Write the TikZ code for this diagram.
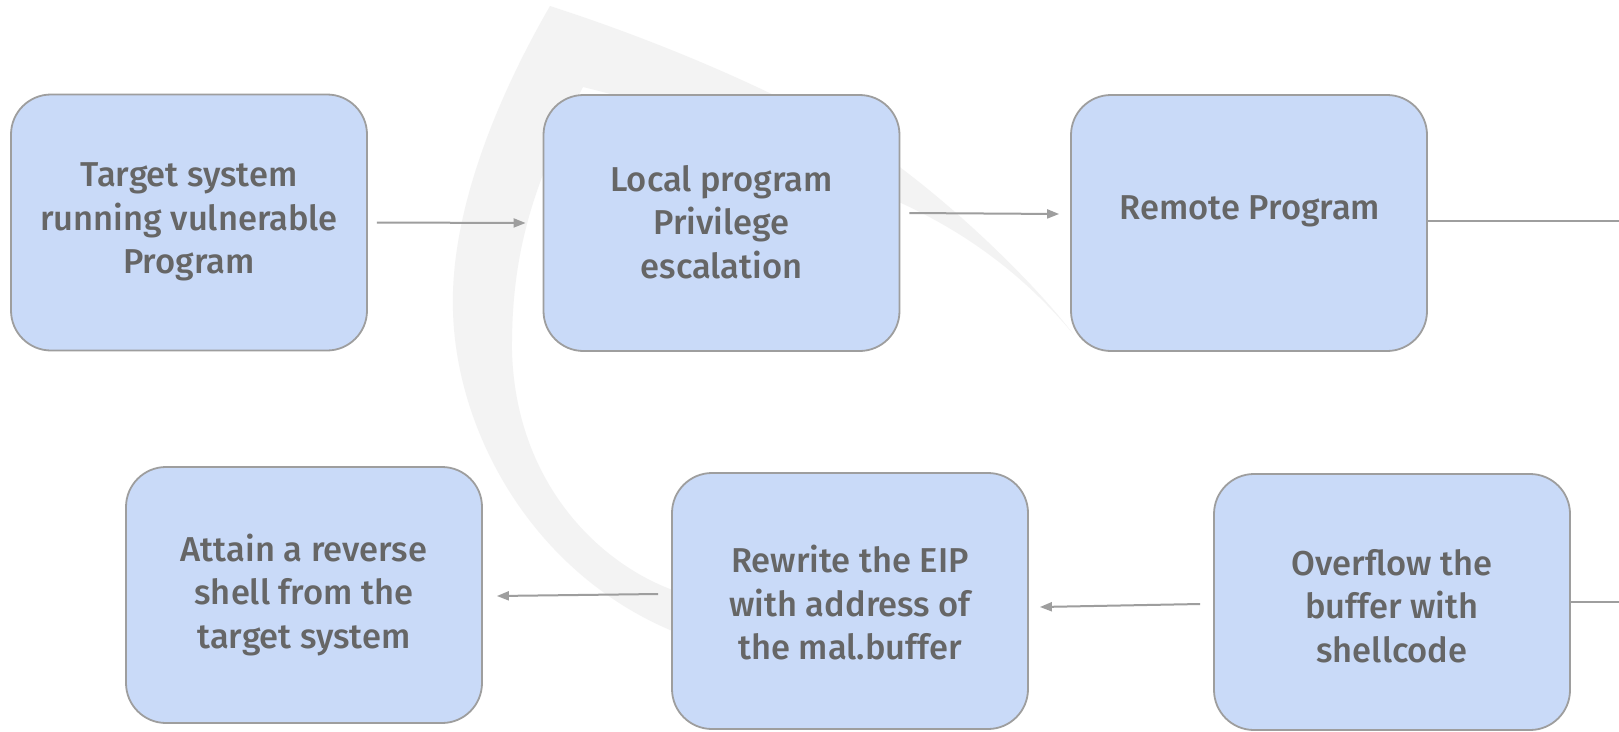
\documentclass[tikz,border=0pt]{standalone}
\usepackage{fontspec}
\setmainfont{Fira Sans}[UprightFont={* Medium}]
\usetikzlibrary{arrows.meta}
\definecolor{boxfill}{HTML}{C9DAF8}
\definecolor{boxline}{HTML}{9E9E9E}
\definecolor{txtgray}{HTML}{666666}
\definecolor{swoosh}{HTML}{F3F3F3}

\begin{document}
\begin{tikzpicture}[x=1pt,y=-1pt,
  stage/.style={draw=boxline, line width=1.8pt, fill=boxfill, rounded corners=40pt,
    minimum width=356pt, minimum height=256pt, inner sep=0pt},
  caption/.style={text=txtgray, font=\fontsize{34.5}{43.5}\selectfont, align=center, inner sep=0pt},
  flow/.style={draw=boxline, line width=2pt, -{Triangle[length=12pt,width=9pt]}},
  link/.style={draw=boxline, line width=2pt}]

% page
\fill[white] (0,0) rectangle (1619,731);
\useasboundingbox (0,0) rectangle (1619,731);

% faint crescent in the background
\fill[swoosh]
  (550,6) .. controls (680,48) and (820,110) .. (901,168)
          .. controls (970,220) and (1040,290) .. (1074,335)
          .. controls (1020,270) and (960,230) .. (901,203)
          .. controls (800,160) and (680,110) .. (583,87)
          .. controls (535,180) and (511,250) .. (512,352)
          .. controls (516,480) and (595,560) .. (670,589)
          .. controls (720,608) and (760,630) .. (800,650)
          .. controls (760,645) and (715,642) .. (670,630)
          .. controls (530,570) and (456,430) .. (453,311)
          .. controls (450,220) and (490,110) .. (550,6)
  -- cycle;

% stages
\node[stage] (b1) at (189,222.5) {};
\node[stage] (b2) at (721.5,223) {};
\node[stage] (b3) at (1249,223) {};
\node[stage] (b4) at (304,595) {};
\node[stage] (b5) at (850,601) {};
\node[stage] (b6) at (1392,602) {};

% captions
\node[caption] (t1) at (189,222) {Target system\\running vulnerable\\Program};
\node[caption] (t2) at (721.5,222) {Local program\\Privilege\\escalation};
\node[caption] (t3) at (1250,211) {Remote Program};
\node[caption] (t4) at (304,595) {Attain a reverse\\shell from the\\target system};
\node[caption] (t5) at (850,603) {Rewrite the EIP\\with address of\\the mal.buffer};
\node[caption] (t6) at (1392,606) {Overflow the\\buffer with\\shellcode};

% connectors
\coordinate (r1) at (1619,221);
\coordinate (r2) at (1619,602);
\draw[flow] ([xshift=9pt]b1.east) -- ([xshift=-17pt]b2.west);
\draw[flow] ([xshift=9pt,yshift=10pt]b2.east) -- ([xshift=-11pt,yshift=9pt]b3.west);
\draw[link] (b3.east |- r1) -- (r1);
\draw[link] (r2) -- (b6.east |- r2);
\draw[flow] ([xshift=-13pt,yshift=-2pt]b6.west) -- ([xshift=11pt,yshift=-6pt]b5.east);
\draw[flow] ([xshift=-13pt,yshift=7pt]b5.west) -- ([xshift=14pt,yshift=-1pt]b4.east);
\end{tikzpicture}
\end{document}
